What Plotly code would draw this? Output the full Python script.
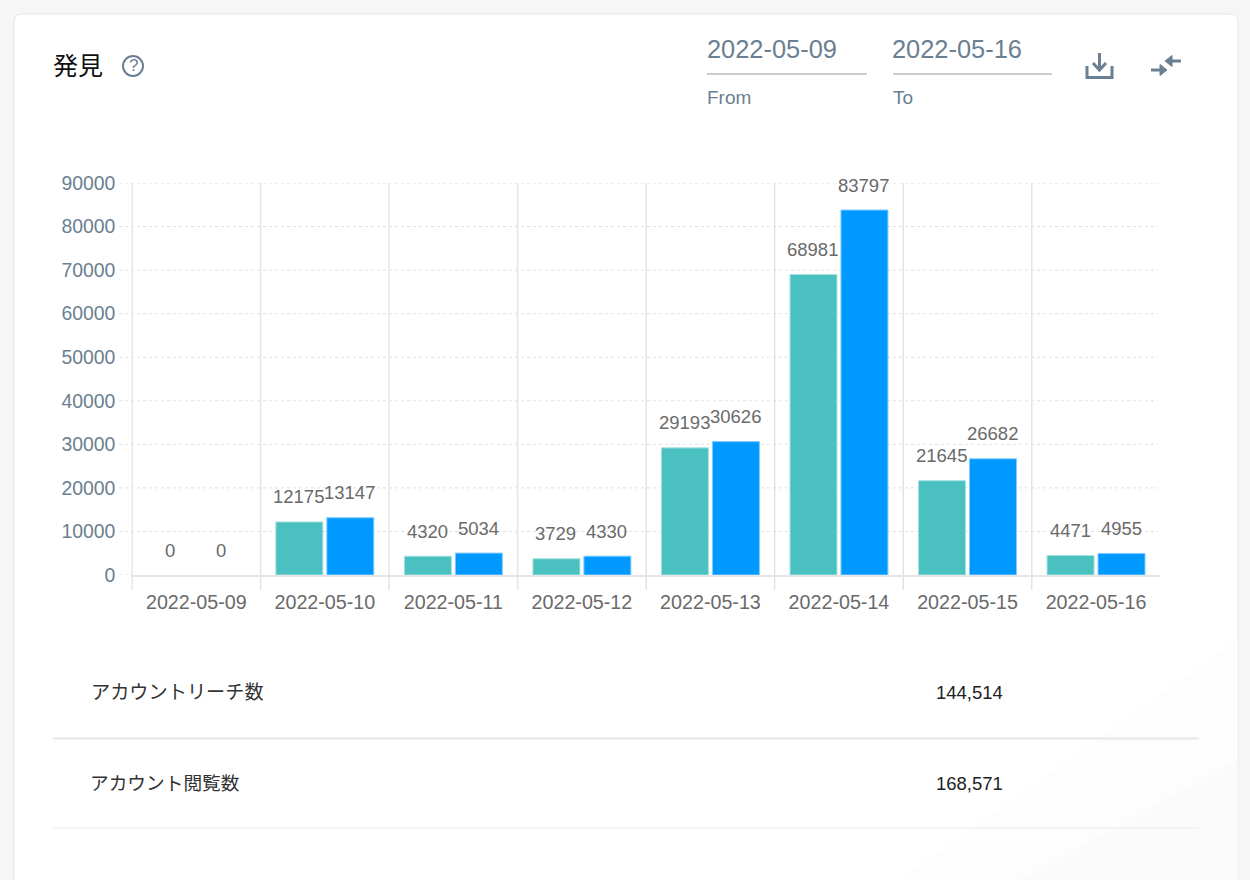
import plotly.graph_objects as go

dates = ["2022-05-09", "2022-05-10", "2022-05-11", "2022-05-12",
         "2022-05-13", "2022-05-14", "2022-05-15", "2022-05-16"]
reach = [0, 12175, 4320, 3729, 29193, 68981, 21645, 4471]
views = [0, 13147, 5034, 4330, 30626, 83797, 26682, 4955]
y_ticks = [0, 10000, 20000, 30000, 40000, 50000, 60000, 70000, 80000, 90000]
table_labels = ["アカウントリーチ数", "アカウント閲覧数"]
table_values = ["144,514", "168,571"]
title_text = "発見"
from_date = "2022-05-09"
to_date = "2022-05-16"

W, H = 1250, 880
FONT = "Liberation Sans, Helvetica, Arial, sans-serif"
CJK = "Liberation Sans, Noto Sans CJK JP, sans-serif"
SLATE = "#6b7f92"
GREY = "#6a6a6a"


def px(x):
    return x / W


def py(y):
    return 1 - y / H


def spath(points, close=True):
    d = "M " + " L ".join(f"{px(x):.5f},{py(y):.5f}" for x, y in points)
    return d + (" Z" if close else "")


fig = go.Figure()
fig.add_bar(x=dates, y=reach,
            marker=dict(color="#4bc0c0", line=dict(color="#a5e0e0", width=[1 if v else 0 for v in reach])), name="reach")
fig.add_bar(x=dates, y=views,
            marker=dict(color="#0099ff", line=dict(color="#80ccff", width=[1 if v else 0 for v in views])), name="views")

shapes = []
paper = dict(xref="paper", yref="paper")

# card and its faint wash at the bottom right
r = 8
card = (f"M {px(14)},{py(884)} L {px(14)},{py(14 + r)} Q {px(14)},{py(14)} {px(14 + r)},{py(14)} "
        f"L {px(1238 - r)},{py(14)} Q {px(1238)},{py(14)} {px(1238)},{py(14 + r)} L {px(1238)},{py(884)} Z")
shapes.append(dict(type="path", path=card, fillcolor="#ffffff", line=dict(color="#e6e6e6", width=1), layer="below", **paper))
shapes.append(dict(type="path", path=spath([(1237.5, 640), (1237.5, 880), (900, 880)]), fillcolor="#fdfdfd", line=dict(width=0), layer="below", **paper))
shapes.append(dict(type="path", path=spath([(1237.5, 760), (1237.5, 880), (1020, 880)]), fillcolor="#fbfbfb", line=dict(width=0), layer="below", **paper))

# horizontal dashed grid, running a little past the axis on the left
for t in y_ticks[1:]:
    shapes.append(dict(type="line", xref="paper", yref="y", x0=px(119), x1=px(1158), y0=t, y1=t,
                       line=dict(color="#e0e0e0", width=1, dash="3px,3px"), layer="below"))
shapes.append(dict(type="line", xref="paper", yref="y", x0=px(119), x1=px(132), y0=0, y1=0,
                   line=dict(color="#e0e0e0", width=1, dash="3px,3px"), layer="below"))

# vertical separators at the left boundary of each category, down past the axis
for i in range(len(dates)):
    shapes.append(dict(type="line", xref="x", yref="paper", x0=i - 0.5, x1=i - 0.5, y0=py(590), y1=py(183),
                       line=dict(color="#e4e4e4", width=1.5), layer="below"))

# date field underlines and table rules
shapes.append(dict(type="line", x0=px(707), x1=px(867), y0=py(74), y1=py(74), line=dict(color="#9a9a9a", width=1), **paper))
shapes.append(dict(type="line", x0=px(893), x1=px(1052), y0=py(74), y1=py(74), line=dict(color="#9a9a9a", width=1), **paper))
shapes.append(dict(type="line", x0=px(53), x1=px(1199), y0=py(738.5), y1=py(738.5), line=dict(color="#e3e7ea", width=2), **paper))
shapes.append(dict(type="line", x0=px(53), x1=px(1199), y0=py(828), y1=py(828), line=dict(color="#ececec", width=1), **paper))

# help icon
shapes.append(dict(type="circle", x0=px(123), x1=px(143), y0=py(76), y1=py(56), line=dict(color=SLATE, width=2), **paper))

# download icon
icon = dict(line=dict(color=SLATE, width=3), **paper)
shapes.append(dict(type="path", path=spath([(1087, 66), (1087, 77.5), (1112, 77.5), (1112, 66)], False), **icon))
shapes.append(dict(type="path", path=spath([(1099.5, 53), (1099.5, 70)], False), **icon))
shapes.append(dict(type="path", path=spath([(1093, 63), (1099.5, 70), (1106, 63)], False), **icon))

# collapse icon
head = dict(fillcolor=SLATE, line=dict(color=SLATE, width=1), **paper)
shapes.append(dict(type="path", path=spath([(1151, 70), (1162, 70)], False), **icon))
shapes.append(dict(type="path", path=spath([(1160, 64.5), (1167, 70), (1160, 75.5)]), **head))
shapes.append(dict(type="path", path=spath([(1170, 61), (1181, 61)], False), **icon))
shapes.append(dict(type="path", path=spath([(1172, 55.5), (1165, 61), (1172, 66.5)]), **head))

annotations = []


def label(text, x, y, size, color, font=FONT, anchor="left"):
    annotations.append(dict(text=text, x=px(x), y=py(y), xref="paper", yref="paper", showarrow=False,
                            xanchor=anchor, yanchor="middle", font=dict(family=font, size=size, color=color),
                            borderpad=0, borderwidth=0))


label(title_text, 53, 66, 25, "#111111", CJK)
label("?", 133, 66, 17, SLATE, anchor="center")
label(from_date, 707, 49, 25.4, SLATE)
label(to_date, 892, 49, 25.4, SLATE)
label("From", 707, 97, 19, SLATE)
label("To", 893, 97, 19, SLATE)

for text, value, x_text, y_row, size in zip(table_labels, table_values, (91, 90), (692, 783), (19.2, 18.7)):
    label(text, x_text, y_row, size, "#333333", CJK)
    label(value, 936, y_row + 0.5, 18.5, "#222222")

for series, shift in ((reach, -25.5), (views, 25.5)):
    for d, v in zip(dates, series):
        annotations.append(dict(text=str(v), x=d, y=v, xref="x", yref="y", showarrow=False,
                                xshift=shift - 0.5, yshift=25, xanchor="center", yanchor="middle",
                                font=dict(family=FONT, size=18.5, color=GREY)))

fig.update_layout(
    template="none",
    width=W, height=H, autosize=False,
    margin=dict(l=0, r=0, t=0, b=0, autoexpand=False),
    paper_bgcolor="#f6f6f6", plot_bgcolor="rgba(0,0,0,0)",
    showlegend=False, barmode="group", bargap=0.207, bargroupgap=0.078,
    font=dict(family=FONT),
    shapes=shapes, annotations=annotations,
    xaxis=dict(type="category", domain=[px(131.3), px(1160.3)], automargin=False,
               ticks="outside", ticklen=8, tickcolor="rgba(0,0,0,0)", showgrid=False,
               showline=True, linecolor="#e6e6e6", linewidth=2,
               tickfont=dict(family=FONT, size=19.7, color=GREY)),
    yaxis=dict(domain=[py(575), py(183)], range=[0, 90000], tickvals=y_ticks, tickformat="d", automargin=False,
               showgrid=False, zeroline=False, showline=False, ticks="outside", ticklen=11,
               tickcolor="rgba(0,0,0,0)", tickfont=dict(family=FONT, size=19.4, color=SLATE)),
)

fig.write_html("out.html", config={"displayModeBar": False},
               post_script="document.body.style.margin='0';document.documentElement.style.overflow='hidden';")
